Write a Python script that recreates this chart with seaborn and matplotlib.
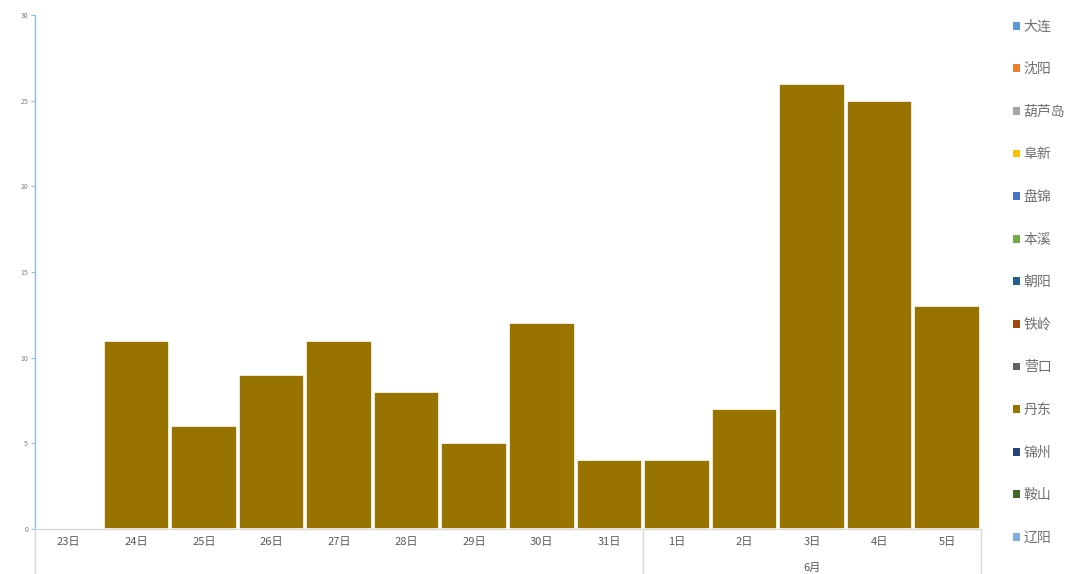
import pandas as pd
import matplotlib.pyplot as plt
import seaborn as sns
from matplotlib.patches import Patch
import matplotlib.transforms as mtransforms

# data
days = ['23日', '24日', '25日', '26日', '27日', '28日', '29日',
        '30日', '31日', '1日', '2日', '3日', '4日', '5日']
dandong = [0, 11, 6, 9, 11, 8, 5, 12, 4, 4, 7, 26, 25, 13]
month_label = '6月'
june_start = 9  # index of 1日

cities = ['大连', '沈阳', '葫芦岛', '阜新', '盘锦', '本溪', '朝阳',
          '铁岭', '营口', '丹东', '锦州', '鞍山', '辽阳']
city_colors = ['#5B9BD5', '#ED7D31', '#A5A5A5', '#FFC000', '#4472C4', '#70AD47',
               '#255E91', '#9E480E', '#636363', '#997300', '#264478', '#43682B',
               '#7CAFDD']

sns.set_style('white')
plt.rcParams['font.family'] = ['Noto Sans CJK SC', 'DejaVu Sans']

df = pd.DataFrame({'day': days, 'value': dandong})

fig = plt.figure(figsize=(10.8, 5.74), dpi=100)
ax = fig.add_axes([35 / 1080, 45 / 574, (981 - 35) / 1080, (529 - 15) / 574])

sns.barplot(data=df, x='day', y='value', color=city_colors[9], saturation=1,
            width=0.97, edgecolor='white', linewidth=1.2, ax=ax)

ax.set_ylim(0, 30)
ax.set_xlim(-0.5, len(days) - 0.5)
ax.set_yticks(range(0, 31, 5))
ax.set_xlabel('')
ax.set_ylabel('')

for s in ['top', 'right']:
    ax.spines[s].set_visible(False)
ax.spines['left'].set_color('#8CBDE8')
ax.spines['left'].set_linewidth(1)
ax.spines['bottom'].set_color('#D9D9D9')
ax.spines['bottom'].set_linewidth(1)

ax.tick_params(axis='y', labelsize=5, colors='#7F7F7F', length=3, width=0.8,
               color='#8CBDE8', left=True, pad=2)
ax.tick_params(axis='x', labelsize=8, colors='#595959', length=0, pad=6)

# multi-level category separators
trans = mtransforms.blended_transform_factory(ax.transData, ax.transAxes)
for xpos in [-0.5, june_start - 0.5, len(days) - 0.5]:
    ax.plot([xpos, xpos], [0, -0.09], transform=trans, color='#D9D9D9',
            linewidth=1, clip_on=False)
ax.text((june_start + len(days) - 1) / 2, -0.075, month_label, transform=trans,
        ha='center', va='center', fontsize=8, color='#595959')

handles = [Patch(facecolor=c, edgecolor='none', label=n)
           for n, c in zip(cities, city_colors)]
fig.legend(handles=handles, loc='upper left', bbox_to_anchor=(1007 / 1080, 1 - 14 / 574),
           frameon=False, fontsize=10, labelcolor='#6F6F6F', handlelength=0.5,
           handleheight=0.5, handletextpad=0.3, labelspacing=2.06, borderaxespad=0)

fig.savefig('out.png', dpi=100)
